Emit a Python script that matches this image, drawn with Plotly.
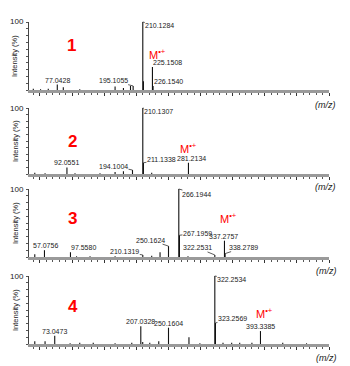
import plotly.graph_objects as go

# ---------------- data ----------------
p1_mz = [39.7, 51, 63, 77.0428, 86.4, 112, 167, 180, 191, 195.1055, 210.1284, 211.13, 225.1508, 226.1540]
p1_int = [2, 1, 2, 8, 4, 1, 5, 3, 6, 6, 100, 13, 34, 6]
p1_lab_mz = [77.0428, 195.1055, 210.1284, 225.1508, 226.1540]
p1_lab_txt = ["77.0428", "195.1055", "210.1284", "225.1508", "226.1540"]

p2_mz = [42, 58, 92.0551, 104.6, 143.5, 167, 180, 194.1004, 210.1307, 211.1338, 224, 281.2134]
p2_int = [2, 1, 10, 1, 1, 3, 4, 6, 100, 17, 2, 17]
p2_lab_mz = [92.0551, 194.1004, 210.1307, 211.1338, 281.2134]
p2_lab_txt = ["92.0551", "194.1004", "210.1307", "211.1338", "281.2134"]

p3_mz = [42, 57.0756, 97.5580, 107, 128, 167, 210.1319, 224, 237, 250.1624, 266.1944, 267.1959, 280.5, 322.2531, 337.2757, 338.2789]
p3_int = [4, 10, 7, 1, 1, 1, 3, 2, 7, 16, 100, 32, 1, 3, 24, 5]
p3_lab_mz = [57.0756, 97.5580, 210.1319, 250.1624, 266.1944, 267.1959, 322.2531, 337.2757, 338.2789]
p3_lab_txt = ["57.0756", "97.5580", "210.1319", "250.1624", "266.1944", "267.1959", "322.2531", "337.2757", "338.2789"]

p4_mz = [42, 58, 73.0473, 97, 112, 133, 167, 193, 207.0328, 210, 221, 235, 250.1604, 282, 299, 322.2534, 323.2569, 335, 348.5, 361, 380, 393.3385, 428, 465]
p4_int = [4, 4, 12, 1, 2, 2, 1, 2, 26, 3, 2, 4, 24, 10, 1, 100, 31, 2, 2, 2, 2, 19, 2, 1]
p4_lab_mz = [73.0473, 207.0328, 250.1604, 322.2534, 323.2569, 393.3385]
p4_lab_txt = ["73.0473", "207.0328", "250.1604", "322.2534", "323.2569", "393.3385"]

panel_names = ["1", "2", "3", "4"]
mol_ion_text = "M<sup>•+</sup>"
y_title = "Intensity (%)"
y_top_label = "100"
x_title = "(m/z)"
x_range = [33, 500]

# ---------------- layout / style ----------------
W, H = 350, 366
panel_box = [(22, 90), (108, 174), (189, 257), (276, 344)]
x_left, x_right = 29, 329

p1_off = [(0, 0, False), (-20, -5, True), (17, 4, True), (15, -4, True), (15, -4, True)]
p2_off = [(0, 0, False), (-19, -4, True), (16, 3, True), (18, -3, True), (3, 0, False)]
p3_off = [(1, 0, False), (13, 0, False), (-18, -3, True), (-18, -6, True), (18, 5, True),
          (18, -2, True), (-17, -7, True), (-1, 0, False), (18, -6, True)]
p4_off = [(0, 0, False), (0, 0, False), (0, 0, False), (17, 3, True), (17, -4, True), (0, 0, False)]

num_pos = [(71, 45), (72, 141.5), (72, 218.5), (73, 306)]
mol_pos = [(157, 54), (188, 148), (228, 218), (264, 313)]
mz_pos = [(325, 105), (325, 187), (326, 271), (326, 358)]

panels = [
    (p1_mz, p1_int, p1_lab_mz, p1_lab_txt, p1_off),
    (p2_mz, p2_int, p2_lab_mz, p2_lab_txt, p2_off),
    (p3_mz, p3_int, p3_lab_mz, p3_lab_txt, p3_off),
    (p4_mz, p4_int, p4_lab_mz, p4_lab_txt, p4_off),
]

FONT = "Liberation Sans, Arial, sans-serif"


def paper_note(px, py, text, font, **kw):
    d = dict(x=px / W, y=1 - py / H, xref="paper", yref="paper", text=text,
             showarrow=False, xanchor="center", yanchor="middle", font=font)
    d.update(kw)
    return d


fig = go.Figure()
annotations = []
layout = dict(
    width=W, height=H, margin=dict(l=0, r=0, t=0, b=0, autoexpand=False),
    paper_bgcolor="white", plot_bgcolor="white", showlegend=False,
    font=dict(family=FONT, size=8, color="#222"),
)

for i, (mz, inten, lmz, ltxt, offs) in enumerate(panels):
    k = "" if i == 0 else str(i + 1)
    xa, ya = "x" + k, "y" + k
    top, bot = panel_box[i]
    xs, ys = [], []
    for m, v in zip(mz, inten):
        xs += [m, m, None]
        ys += [0, v, None]
    fig.add_trace(go.Scatter(x=xs, y=ys, mode="lines", xaxis=xa, yaxis=ya,
                             line=dict(color="#111", width=1.1), hoverinfo="skip"))
    layout["xaxis" + k] = dict(
        domain=[x_left / W, x_right / W], range=x_range, anchor=ya, automargin=False,
        showline=True, linecolor="#9a9a9a", linewidth=2.5,
        ticks="outside", tickcolor="#333", ticklen=3, tickwidth=1, tick0=0, dtick=50,
        minor=dict(ticks="outside", dtick=10, ticklen=2, tickcolor="#555"),
        showticklabels=False, showgrid=False, zeroline=False,
    )
    layout["yaxis" + k] = dict(
        domain=[1 - bot / H, 1 - top / H], range=[0, 100], anchor=xa, automargin=False,
        showline=True, linecolor="#444", linewidth=1,
        ticks="outside", ticklen=2, tickcolor="#555",
        tickvals=list(range(0, 101, 10)),
        showticklabels=False,
        showgrid=False, zeroline=False,
    )
    annotations.append(dict(x=0, y=100, xref=xa + " domain", yref=ya, text=y_top_label,
                            showarrow=False, xanchor="right", yanchor="middle", xshift=-3,
                            font=dict(size=8, color="#222", family=FONT)))
    hmap = dict(zip(mz, inten))
    for m, t, (ax, ay, lead) in zip(lmz, ltxt, offs):
        h = hmap.get(m, 0)
        if lead:
            annotations.append(dict(
                x=m, y=h, xref=xa, yref=ya, text=t, showarrow=True,
                ax=ax, ay=ay, arrowhead=0, arrowwidth=0.8, arrowcolor="#333",
                font=dict(size=7, color="#222", family=FONT), borderpad=0,
            ))
        else:
            annotations.append(dict(
                x=m, y=h, xref=xa, yref=ya, text=t, showarrow=False,
                yanchor="bottom", xanchor="center", xshift=ax, yshift=0,
                font=dict(size=7, color="#222", family=FONT), borderpad=0,
            ))
    nx, ny = num_pos[i]
    annotations.append(paper_note(nx, ny, "<b>" + panel_names[i] + "</b>",
                                  dict(size=17, color="#ff0000", family=FONT)))
    mx, my = mol_pos[i]
    annotations.append(paper_note(mx, my, mol_ion_text,
                                  dict(size=11, color="#ff0000", family=FONT)))
    zx, zy = mz_pos[i]
    annotations.append(paper_note(zx, zy, "<i>" + x_title + "</i>",
                                  dict(size=9, color="#222", family=FONT)))
    annotations.append(paper_note(15, (top + bot) / 2, y_title,
                                  dict(size=7.5, color="#222", family=FONT), textangle=-90))

layout["annotations"] = annotations
fig.update_layout(**layout)
fig.write_html("out.html")
